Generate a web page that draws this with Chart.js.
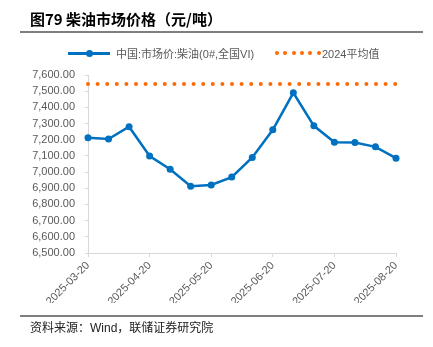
<!DOCTYPE html>
<html>
<head>
<meta charset="utf-8">
<script src="https://cdn.jsdelivr.net/npm/chart.js@4/dist/chart.umd.min.js"></script>
<style>
    body { margin: 0; background: #fff; }
    #wrap { position: relative; width: 433px; height: 347px; overflow: hidden; }
    #chart { position: absolute; left: 0; top: 0; }
    .title { position: absolute; left: 30px; top: 8px; font: bold 15px "Noto Sans CJK SC", "Liberation Sans", sans-serif; color: #000; white-space: nowrap; }
    .rule { position: absolute; left: 20px; width: 403px; height: 2px; background: #7f7f7f; }
    .legend { position: absolute; top: 45px; left: 0; width: 433px; height: 16px; font: 11px "Liberation Sans", "Noto Sans CJK SC", sans-serif; color: #595959; }
    .legend span { position: absolute; white-space: nowrap; }
    .source { position: absolute; left: 30px; top: 318px; font: 12px "Liberation Sans", "Noto Sans CJK SC", sans-serif; color: #222; white-space: nowrap; }
</style>
</head>
<body>
<div id="wrap">
    <canvas id="chart" width="433" height="347"></canvas>
    <div class="title">图79 柴油市场价格（元/吨）</div>
    <div class="rule" style="top:31px"></div>
    <div class="legend" id="legend"></div>
    <div class="rule" style="top:315px"></div>
    <div class="source">资料来源：Wind，联储证券研究院</div>
</div>
<script>
const dates = [
    '2025-03-20', '2025-03-31', '2025-04-10', '2025-04-20', '2025-04-30', '2025-05-10',
    '2025-05-20', '2025-05-31', '2025-06-10', '2025-06-20', '2025-06-30', '2025-07-10',
    '2025-07-20', '2025-07-31', '2025-08-10', '2025-08-20'
];
const dieselPrice = [7212, 7204, 7280, 7099, 7018, 6913, 6920, 6969, 7090, 7261, 7490, 7286, 7185, 7183, 7156, 7086];
const avg2024 = 7545;
const shownDates = ['2025-03-20', '2025-04-20', '2025-05-20', '2025-06-20', '2025-07-20', '2025-08-20'];
const seriesNames = ['中国:市场价:柴油(0#,全国VI)', '2024平均值'];

const BLUE = '#0070C0';
const ORANGE = '#FF6A00';
const AXIS = '#d9d9d9';
const TEXT = '#595959';

function buildLegend() {
    const box = document.getElementById('legend');
    let html = '';
    html += `<span style="left:68px;top:7px;width:42px;height:2.5px;background:${BLUE}"></span>`;
    html += `<span style="left:86px;top:4.5px;width:7px;height:7px;border-radius:50%;background:${BLUE}"></span>`;
    html += `<span style="left:116px;top:0">${seriesNames[0]}</span>`;
    for (let i = 0; i < 6; i++) {
        html += `<span style="left:${275 + i * 8.3}px;top:6px;width:4px;height:4px;border-radius:50%;background:${ORANGE}"></span>`;
    }
    html += `<span style="left:322px;top:0">${seriesNames[1]}</span>`;
    box.innerHTML = html;
}
buildLegend();

const ctx = document.getElementById('chart').getContext('2d');
new Chart(ctx, {
    type: 'line',
    data: {
        labels: dates,
        datasets: [
            {
                label: seriesNames[1],
                data: dates.map(() => avg2024),
                borderColor: ORANGE,
                borderWidth: 4,
                borderDash: [0, 9.6],
                borderCapStyle: 'round',
                pointRadius: 0,
                fill: false
            },
            {
                label: seriesNames[0],
                data: dieselPrice,
                borderColor: BLUE,
                backgroundColor: BLUE,
                borderWidth: 2.5,
                pointRadius: 3.5,
                pointBackgroundColor: BLUE,
                pointBorderWidth: 0,
                tension: 0,
                fill: false
            }
        ]
    },
    options: {
        responsive: false,
        animation: false,
        layout: { padding: { top: 75, right: 37, bottom: 44, left: 0 } },
        plugins: {
            legend: { display: false },
            tooltip: { enabled: false }
        },
        scales: {
            x: {
                offset: false,
                afterFit: scale => { scale.height = 50; },
                border: { color: AXIS, width: 1 },
                grid: { drawOnChartArea: false, drawTicks: true, tickLength: 4, color: AXIS },
                ticks: {
                    autoSkip: false,
                    minRotation: 45,
                    maxRotation: 45,
                    padding: 2,
                    color: TEXT,
                    font: { family: 'Liberation Sans', size: 11 },
                    callback: function (value, index) {
                        const d = dates[index];
                        return shownDates.includes(d) ? d : null;
                    }
                }
            },
            y: {
                min: 6500,
                max: 7600,
                afterFit: scale => { scale.width = 88; },
                border: { color: AXIS, width: 1 },
                grid: { drawOnChartArea: false, drawTicks: true, tickLength: 3, color: AXIS },
                ticks: {
                    autoSkip: false,
                    stepSize: 100,
                    padding: 10,
                    color: TEXT,
                    font: { family: 'Liberation Sans', size: 11 },
                    callback: value => value.toLocaleString('en-US', { minimumFractionDigits: 2, maximumFractionDigits: 2 })
                }
            }
        }
    }
});
</script>
</body>
</html>
